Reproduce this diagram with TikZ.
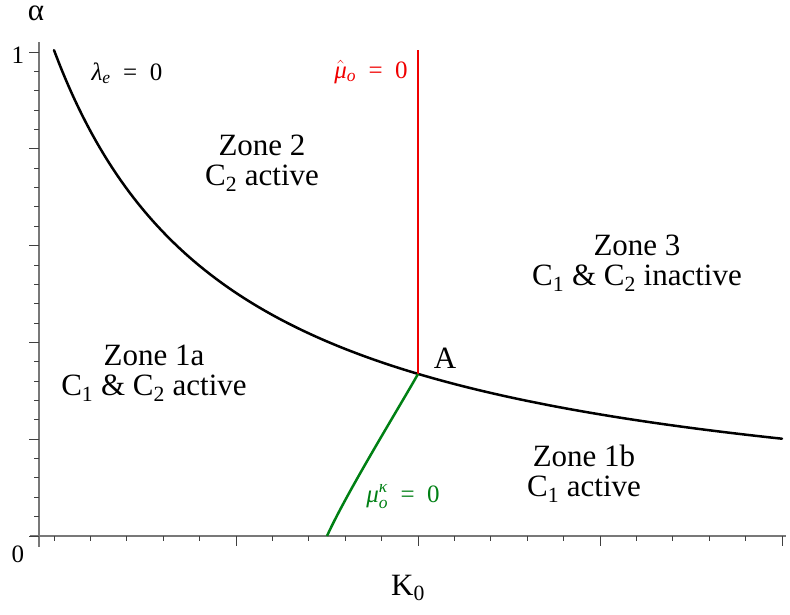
\documentclass[tikz,border=0pt]{standalone}
\usepackage{fontspec}
\setmainfont{Liberation Serif}
\usepackage{amsmath}
\usepackage{tikz}
\usepackage{xcolor}
\definecolor{ZoneRed}{RGB}{240,0,0}
\definecolor{ZoneGreen}{RGB}{0,128,20}
\definecolor{AxisGray}{RGB}{120,120,120}
\newcommand\zonefont{\fontsize{31}{30}\selectfont}
\newcommand\eqfont{\fontsize{25}{26}\selectfont}
\newcommand\eqsign{\enspace=\enspace}
\tikzset{
  zonelabel/.style={font=\zonefont,align=center,inner sep=0pt,anchor=north},
  eqlabel/.style={font=\eqfont,inner sep=0pt,anchor=base},
  axislabel/.style={inner sep=0pt,anchor=base},
  boundary/.style={line width=2.5pt,line cap=round},
  axisline/.style={draw=AxisGray,line width=1.4pt},
  tickline/.style={draw=black!75,line width=0.9pt}
}

\begin{document}
\begin{tikzpicture}[x=1pt,y=-1pt]
  \useasboundingbox (0,0) rectangle (790,614);
  % axes
  \draw[axisline] (39,42) -- (39,547);
  \draw[axisline] (30,536) -- (786,536);
  \foreach \i in {0,...,25} \draw[tickline] (39,{536-19.36*\i}) -- (34,{536-19.36*\i});
  \foreach \i in {0,...,5} \draw[tickline] (39,{536-96.8*\i}) -- (29,{536-96.8*\i});
  \foreach \i in {0,...,20} \draw[tickline] ({54+36.4*\i},536) -- ({54+36.4*\i},541);
  \foreach \i in {1,...,4} \draw[tickline] ({54+182*\i},536) -- ({54+182*\i},546);
  \node[axislabel,font=\fontsize{31}{33}\selectfont] (alphalab) at (36,20.5) {α};
  \node[axislabel,font=\fontsize{25}{27}\selectfont] (one) at (18,63) {1};
  \node[axislabel,font=\fontsize{25}{27}\selectfont] (zero) at (18,562) {0};
  \node[axislabel,font=\zonefont] (kzero) at (408,595) {K\textsubscript{0}};
  % boundaries
  \coordinate (A) at (418,374);
  \coordinate (redtop) at (418,50);
  \coordinate (greenfoot) at (327,536);
  \draw[boundary] plot[domain=54:782,samples=120,smooth] (\x,{536-484*(183/(\x+128.3))});
  \draw[boundary,draw=ZoneRed,line cap=butt] (A) -- (redtop);
  \draw[boundary,draw=ZoneGreen,line cap=butt] (A) .. controls (400,406) and (347,492) .. (greenfoot);
  % labels
  \node[axislabel,font=\zonefont] (alab) at (445,368) {A};
  \node[eqlabel] (lambdalab) at (127,80) {\textit{λ}\textsubscript{\textit{e}}\eqsign 0};
  \node[eqlabel,text=ZoneRed] (mulab) at (371,78) {$\hat{\text{\textit{μ}}}$\textsubscript{\textit{o}}\eqsign 0};
  \node[eqlabel,text=ZoneGreen] (kappalab) at (403,502) {$\text{\textit{μ}}_{\text{\textit{o}}}^{\text{\textit{κ}}}$\eqsign 0};
  \node[zonelabel] (zonetwo) at (262,135) {Zone 2\\C\textsubscript{2} active};
  \node[zonelabel] (zonethree) at (637,235) {Zone 3\\C\textsubscript{1} \& C\textsubscript{2} inactive};
  \node[zonelabel] (zoneonea) at (154,345) {Zone 1a\\C\textsubscript{1} \& C\textsubscript{2} active};
  \node[zonelabel] (zoneoneb) at (584,445) {Zone 1b\\C\textsubscript{1} active};
\end{tikzpicture}
\end{document}
